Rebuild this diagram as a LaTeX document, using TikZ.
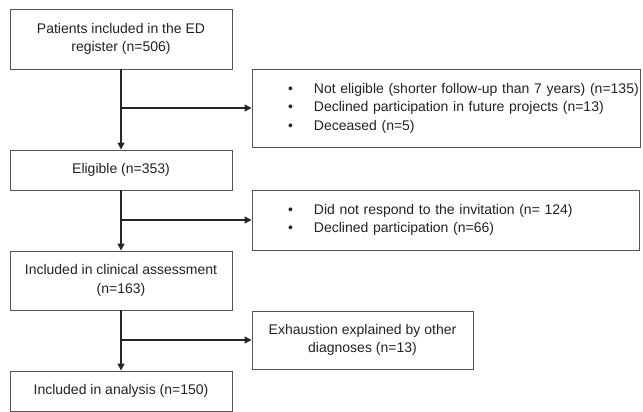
\documentclass[tikz,border=0pt]{standalone}
\usepackage{fontspec}
\setmainfont{Liberation Sans}
\usetikzlibrary{arrows.meta,positioning}
\definecolor{boxline}{RGB}{85,85,85}
\definecolor{txtgrey}{RGB}{35,35,35}
\tikzset{
  pbox/.style={draw=boxline,line width=0.9pt,align=center,inner sep=4pt,fill=white,text=txtgrey,font=\fontsize{14}{18.5}\selectfont,minimum width=222pt},
  xbox/.style={pbox,align=left},
  flow/.style={-{Triangle[length=7pt,width=7pt]},line width=1.2pt,draw=black!85}
}

\begin{document}
\begin{tikzpicture}[x=1pt,y=-1pt]
  \useasboundingbox (0,0) rectangle (643,412);
  \node[pbox,minimum height=60pt] (reg) at (121,39)    {Patients included in the ED\\ register (n=506)};
  \node[pbox,minimum height=40pt] (elig) at (121,170)  {Eligible (n=353)};
  \node[pbox,minimum height=59pt] (clin) at (121,280.5){Included in clinical assessment\\ (n=163)};
  \node[pbox,minimum height=40pt] (anal) at (121,391)  {Included in analysis (n=150)};
  \node[xbox,text width=380pt,minimum height=78pt] (excl) at (446,108) {\hspace*{32pt}\begin{tabular}{@{}l@{\hspace{21pt}}l@{}}
    \textbullet & Not eligible (shorter follow-up than 7 years) (n=135)\\
    \textbullet & Declined participation in future projects (n=13)\\
    \textbullet & Deceased (n=5)\end{tabular}};
  \node[xbox,text width=379pt,minimum height=60pt] (nonr) at (445.5,220) {\hspace*{32pt}\begin{tabular}{@{}l@{\hspace{21pt}}l@{}}
    \textbullet & Did not respond to the invitation (n= 124)\\
    \textbullet & Declined participation (n=66)\end{tabular}};
  \node[pbox,minimum width=221pt,minimum height=58pt] (othr) at (362.5,340) {Exhaustion explained by other\\ diagnoses (n=13)};
  \coordinate (b1) at (reg.south |- excl.west);
  \coordinate (b2) at (elig.south |- nonr.west);
  \coordinate (b3) at (clin.south |- othr.west);
  \draw[flow] (reg) -- (elig);
  \draw[flow] (elig) -- (clin);
  \draw[flow] (clin) -- (anal);
  \draw[flow] (b1) -- (excl.west);
  \draw[flow] (b2) -- (nonr.west);
  \draw[flow] (b3) -- (othr.west);
\end{tikzpicture}
\end{document}
